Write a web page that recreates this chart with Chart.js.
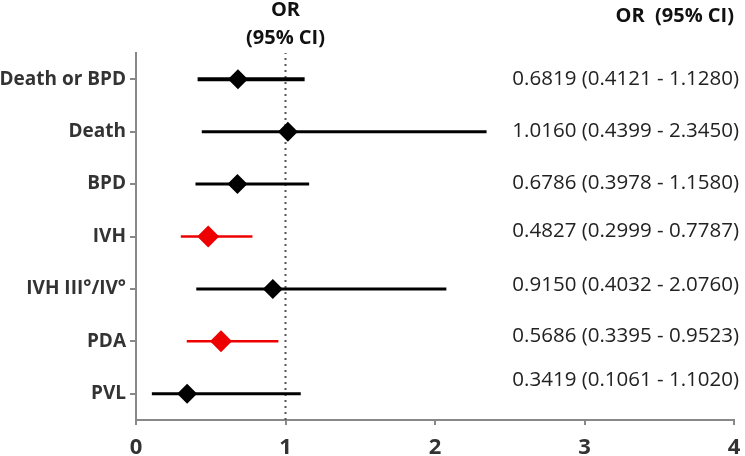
<!DOCTYPE html>
<html>
<head>
<meta charset="utf-8">
<script src="https://cdn.jsdelivr.net/npm/chart.js@4.4.1/dist/chart.umd.min.js"></script>
<style>
  html, body { margin: 0; padding: 0; background: #fff; }
  #wrap { width: 745px; height: 456px; position: relative; }
</style>
</head>
<body>
<div id="wrap"><canvas id="c" width="745" height="456"></canvas></div>
<script>
// ---- data ----
const categories = ['Death or BPD', 'Death', 'BPD', 'IVH', 'IVH III\u00B0/IV\u00B0', 'PDA', 'PVL'];
const orValues = [0.6819, 1.0160, 0.6786, 0.4827, 0.9150, 0.5686, 0.3419];
const ciLower  = [0.4121, 0.4399, 0.3978, 0.2999, 0.4032, 0.3395, 0.1061];
const ciUpper  = [1.1280, 2.3450, 1.1580, 0.7787, 2.0760, 0.9523, 1.1020];
const significant = [false, false, false, true, false, true, false];
const xTicks = [0, 1, 2, 3, 4];
const referenceOR = 1;

// ---- styles ----
const RED = '#ee0000', BLACK = '#000000';
const lineWidths = [4, 3, 3, 2.5, 3, 2.5, 3];
const textOffsets = [0, 0, -1, -5, -4, -5, -14];

const ciDatasets = categories.map((c, i) => ({
  type: 'line',
  label: c,
  data: [{ x: ciLower[i], y: i }, { x: ciUpper[i], y: i }],
  borderColor: significant[i] ? RED : BLACK,
  borderWidth: lineWidths[i],
  pointRadius: 0,
  fill: false,
  order: 2
}));

const refLine = {
  type: 'line',
  label: 'ref',
  data: [{ x: referenceOR, y: -0.52 }, { x: referenceOR, y: 6.5 }],
  borderColor: '#555',
  borderWidth: 2,
  borderDash: [2, 4],
  pointRadius: 0,
  fill: false,
  order: 3
};

const pointsDs = {
  type: 'scatter',
  label: 'OR',
  data: orValues.map((v, i) => ({ x: v, y: i })),
  pointStyle: 'rectRot',
  pointRadius: significant.map(s => s ? 11 : 10),
  pointBackgroundColor: significant.map(s => s ? RED : BLACK),
  pointBorderColor: significant.map(s => s ? RED : BLACK),
  pointBorderWidth: 0,
  order: 1
};

const textPlugin = {
  id: 'texts',
  afterDraw(chart) {
    const ctx = chart.ctx;
    const xs = chart.scales.x, ys = chart.scales.y;
    ctx.save();
    // headers
    ctx.fillStyle = '#111';
    ctx.font = 'bold 20px "Open Sans"';
    ctx.textAlign = 'center';
    ctx.textBaseline = 'middle';
    const cx = xs.getPixelForValue(referenceOR);
    ctx.fillText('OR', cx, 10);
    ctx.fillText('(95% CI)', cx, 38);
    ctx.textAlign = 'right';
    ctx.fillText('OR  (95% CI)', 734, 16);
    // annotations
    ctx.font = '20.5px "Open Sans"';
    ctx.fillStyle = '#222';
    categories.forEach((c, i) => {
      const t = orValues[i].toFixed(4) + ' (' + ciLower[i].toFixed(4) + ' - ' + ciUpper[i].toFixed(4) + ')';
      ctx.fillText(t, 739, ys.getPixelForValue(i) + textOffsets[i]);
    });
    ctx.restore();
  }
};

new Chart(document.getElementById('c'), {
  data: { datasets: [pointsDs].concat(ciDatasets, [refLine]) },
  options: {
    responsive: false,
    animation: false,
    layout: { padding: { top: 53, left: 0, right: 6, bottom: 0 } },
    plugins: { legend: { display: false }, tooltip: { enabled: false } },
    scales: {
      x: {
        type: 'linear',
        min: 0, max: 4,
        afterBuildTicks(scale) { scale.ticks = xTicks.map(v => ({ value: v })); },
        afterFit(scale) { scale.height = 36; scale.paddingRight = 0; scale.paddingLeft = 0; },
        ticks: {
          color: '#333',
          font: { family: 'Open Sans', weight: 'bold', size: 22 },
          padding: 10,
          maxRotation: 0
        },
        grid: { drawOnChartArea: false, drawTicks: true, tickLength: 5, color: '#888', lineWidth: 2 },
        border: { display: true, color: '#888', width: 2 }
      },
      y: {
        type: 'linear',
        min: -0.5, max: 6.5,
        reverse: true,
        afterBuildTicks(scale) { scale.ticks = categories.map((c, i) => ({ value: i })); },
        afterFit(scale) { scale.width = 136; },
        ticks: {
          color: '#333',
          font: { family: 'Open Sans', weight: 'bold', size: 19 },
          padding: 4,
          callback: (v) => categories[v]
        },
        grid: { drawOnChartArea: false, drawTicks: true, tickLength: 6, color: '#888', lineWidth: 2 },
        border: { display: true, color: '#888', width: 2 }
      }
    }
  },
  plugins: [textPlugin]
});
</script>
</body>
</html>
